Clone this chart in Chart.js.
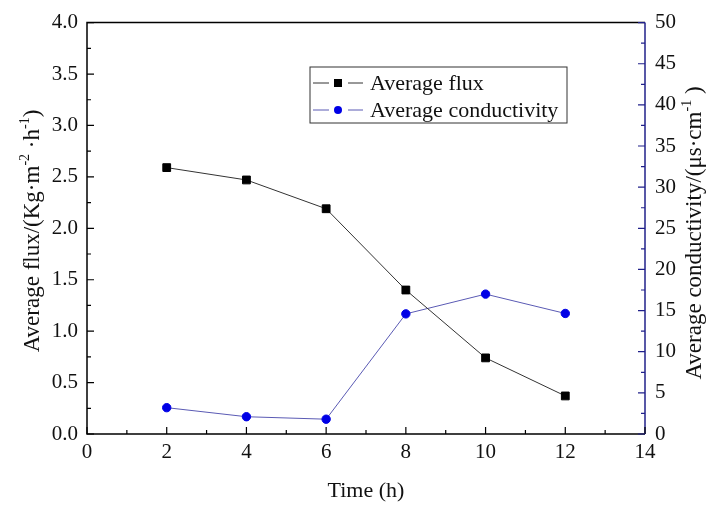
<!DOCTYPE html>
<html>
<head>
<meta charset="utf-8">
<script src="https://cdn.jsdelivr.net/npm/chart.js@4"></script>
<style>
  html, body { margin: 0; padding: 0; background: #fff; }
  #wrap { width: 718px; height: 508px; }
</style>
</head>
<body>
<div id="wrap"><canvas id="fluxChart" width="718" height="508"></canvas></div>
<script>
// Data
const times = [2, 4, 6, 8, 10, 12];
const avgFlux = [2.59, 2.47, 2.19, 1.40, 0.74, 0.37];
const avgConductivity = [3.2, 2.1, 1.8, 14.6, 17.0, 14.65];

const FONT = "'Liberation Serif', 'Times New Roman', serif";
const NAVY = '#20208a';

// axis titles with raised exponents, written bottom-to-top
const leftTitle = [['Average flux/(Kg·m'], ['-2', 1], [' ·h'], ['-1', 1], [')']];
const rightTitle = [['Average conductivity/(μs·cm'], ['-1', 1], [' )']];

function drawRotated(c, parts, cx, cy, size) {
  const big = size + 'px ' + FONT, small = Math.round(size * 0.6) + 'px ' + FONT;
  let total = 0;
  parts.forEach(p => { c.font = p[1] ? small : big; total += c.measureText(p[0]).width; });
  c.save();
  c.translate(cx, cy);
  c.rotate(-Math.PI / 2);
  c.fillStyle = '#111';
  c.textBaseline = 'alphabetic';
  let x = -total / 2;
  parts.forEach(p => {
    c.font = p[1] ? small : big;
    c.fillText(p[0], x, p[1] ? 7 - size * 0.42 : 7);
    x += c.measureText(p[0]).width;
  });
  c.restore();
}

// Draw the frame, inward ticks (major + minor), titles and legend
const framePlugin = {
  id: 'frame',
  afterDraw(chart) {
    const c = chart.ctx, a = chart.chartArea;
    const sx = chart.scales.x, sy = chart.scales.y, sy2 = chart.scales.y2;
    c.save();
    c.lineWidth = 1.5;
    c.strokeStyle = '#000';
    c.beginPath();
    c.moveTo(a.right, a.top); c.lineTo(a.left, a.top);
    c.lineTo(a.left, a.bottom); c.lineTo(a.right, a.bottom);
    c.stroke();
    c.strokeStyle = NAVY;
    c.beginPath();
    c.moveTo(a.right, a.top); c.lineTo(a.right, a.bottom);
    c.stroke();

    c.lineWidth = 1.2;
    c.strokeStyle = '#000';
    c.beginPath();
    for (let v = 0; v <= 14; v += 1) {
      const px = sx.getPixelForValue(v);
      const len = v % 2 === 0 ? 7 : 4;
      c.moveTo(px, a.bottom); c.lineTo(px, a.bottom - len);
    }
    for (let i = 0; i <= 16; i++) {
      const py = sy.getPixelForValue(i * 0.25);
      const len = i % 2 === 0 ? 7 : 4;
      c.moveTo(a.left, py); c.lineTo(a.left + len, py);
    }
    c.stroke();
    c.strokeStyle = NAVY;
    c.beginPath();
    for (let i = 0; i <= 20; i++) {
      const py = sy2.getPixelForValue(i * 2.5);
      const len = i % 2 === 0 ? 7 : 4;
      c.moveTo(a.right, py); c.lineTo(a.right - len, py);
    }
    c.stroke();

    drawRotated(c, leftTitle, 32, 231, 23);
    drawRotated(c, rightTitle, 694, 233, 23);

    // Legend box
    const bx = 310, by = 67, bw = 257, bh = 56;
    c.lineWidth = 1;
    c.strokeStyle = '#333';
    c.strokeRect(bx, by, bw, bh);
    c.font = '22px ' + FONT;
    c.textBaseline = 'middle';
    chart.data.datasets.forEach((ds, i) => {
      const yy = by + 16 + i * 27;
      c.strokeStyle = ds.borderColor;
      c.lineWidth = 1;
      c.beginPath();
      c.moveTo(bx + 3, yy); c.lineTo(bx + 19, yy);
      c.moveTo(bx + 38, yy); c.lineTo(bx + 53, yy);
      c.stroke();
      c.fillStyle = ds.pointBackgroundColor;
      if (ds.pointStyle === 'rect') {
        c.fillRect(bx + 24, yy - 4, 8, 8);
      } else {
        c.beginPath(); c.arc(bx + 28, yy, 4, 0, Math.PI * 2); c.fill();
      }
      c.fillStyle = '#111';
      c.fillText(ds.label, bx + 60, yy + 1);
    });
    c.restore();
  }
};

const ctx = document.getElementById('fluxChart').getContext('2d');
const fluxChart = new Chart(ctx, {
  type: 'scatter',
  data: {
    datasets: [
      {
        label: 'Average flux',
        data: times.map((t, i) => ({ x: t, y: avgFlux[i] })),
        showLine: true,
        yAxisID: 'y',
        borderColor: '#333',
        borderWidth: 1,
        pointStyle: 'rect',
        pointRadius: 5.5,
        pointBackgroundColor: '#000',
        pointBorderColor: '#000'
      },
      {
        label: 'Average conductivity',
        data: times.map((t, i) => ({ x: t, y: avgConductivity[i] })),
        showLine: true,
        yAxisID: 'y2',
        borderColor: '#5a5ab4',
        borderWidth: 1,
        pointStyle: 'circle',
        pointRadius: 4.2,
        pointBackgroundColor: '#0000e6',
        pointBorderColor: '#0000e6'
      }
    ]
  },
  options: {
    responsive: false,
    animation: false,
    layout: { padding: { top: 22, left: 0, right: 0, bottom: 0 } },
    plugins: { legend: { display: false }, tooltip: { enabled: false } },
    scales: {
      x: {
        type: 'linear', min: 0, max: 14,
        grid: { display: false, drawTicks: false },
        border: { display: false },
        ticks: { stepSize: 2, color: '#111', font: { family: FONT, size: 21 }, padding: 6 },
        title: { display: true, text: 'Time (h)', color: '#111', font: { family: FONT, size: 22 }, padding: { top: 8 } },
        afterFit(s) { s.height = 74; }
      },
      y: {
        position: 'left', min: 0, max: 4,
        grid: { display: false, drawTicks: false },
        border: { display: false },
        ticks: { stepSize: 0.5, color: '#111', font: { family: FONT, size: 21 }, padding: 9,
          callback: v => v.toFixed(1) },
        afterFit(s) { s.width = 87; }
      },
      y2: {
        position: 'right', min: 0, max: 50,
        grid: { display: false, drawTicks: false },
        border: { display: false },
        ticks: { stepSize: 5, color: '#111', font: { family: FONT, size: 21 }, padding: 10 },
        afterFit(s) { s.width = 73; }
      }
    }
  },
  plugins: [framePlugin]
});
</script>
</body>
</html>
